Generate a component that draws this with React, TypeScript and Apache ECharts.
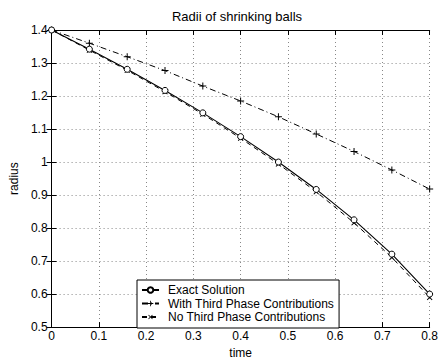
import React, { useEffect, useRef } from "react";
import * as echarts from "echarts";

const times = [0, 0.08, 0.16, 0.24, 0.32, 0.4, 0.48, 0.56, 0.64, 0.72, 0.8];
const exactSolution = [1.4, 1.342, 1.281, 1.217, 1.149, 1.077, 1.0, 0.917, 0.825, 0.721, 0.6];
const withThirdPhase = [1.4, 1.36, 1.319, 1.277, 1.23, 1.185, 1.137, 1.085, 1.032, 0.976, 0.918];
const noThirdPhase = [1.4, 1.339, 1.278, 1.213, 1.145, 1.072, 0.994, 0.91, 0.816, 0.711, 0.59];
const seriesNames = ["Exact Solution", "With Third Phase Contributions", "No Third Phase Contributions"];

const PLUS = "path://M3,0H4V3H7V4H4V7H3V4H0V3H3Z";
const FONT = "Liberation Sans, Arial, Helvetica, sans-serif";

function pairs(ys: number[]) {
  return times.map((t, i) => [t, ys[i]]);
}

export default function App() {
  const ref = useRef<HTMLDivElement>(null);
  useEffect(() => {
    document.body.style.margin = "0";
    const chart = echarts.init(ref.current!, null, { renderer: "svg" });
    const axisCommon = {
      axisLine: { show: true, lineStyle: { color: "#000", width: 1 } },
      axisTick: { show: true, inside: true, length: 5, lineStyle: { color: "#000" } },
    };
    chart.setOption({
      animation: false,
      backgroundColor: "#fff",
      textStyle: { fontFamily: FONT },
      title: {
        text: "Radii of shrinking balls",
        left: 232,
        textAlign: "center",
        top: 5,
        textStyle: { fontSize: 13, fontWeight: "normal", color: "#000", fontFamily: FONT },
      },
      grid: { left: 47, top: 30, width: 385, height: 303, show: false },
      legend: {
        orient: "vertical",
        left: 137,
        top: 280,
        backgroundColor: "#fff",
        borderColor: "#000",
        borderWidth: 1,
        padding: [4, 5, 5, 4],
        itemGap: 1.5,
        itemWidth: 17,
        itemHeight: 7,
        data: seriesNames,
        textStyle: { fontSize: 12, color: "#000", fontFamily: FONT, padding: [0, 0, 0, 4], lineHeight: 12 },
      },
      xAxis: [
        {
          type: "value",
          min: 0,
          max: 0.8,
          interval: 0.1,
          name: "time",
          nameLocation: "middle",
          nameGap: 14,
          nameTextStyle: { fontSize: 12, color: "#000" },
          ...axisCommon,
          axisLabel: { fontSize: 12, color: "#000", margin: 3 },
          splitLine: { show: true, lineStyle: { color: "#888", type: [1, 3], width: 1 } },
        },
        {
          type: "value",
          position: "top",
          min: 0,
          max: 0.8,
          interval: 0.1,
          ...axisCommon,
          axisLabel: { show: false },
          splitLine: { show: false },
        },
      ],
      yAxis: [
        {
          type: "value",
          min: 0.5,
          max: 1.4,
          interval: 0.1,
          name: "radius",
          nameLocation: "middle",
          nameGap: 30,
          nameTextStyle: { fontSize: 12, color: "#000" },
          ...axisCommon,
          axisLabel: { fontSize: 12, color: "#000", margin: 4 },
          splitLine: { show: true, lineStyle: { color: "#888", type: [1, 3], width: 1 } },
        },
        {
          type: "value",
          position: "right",
          min: 0.5,
          max: 1.4,
          interval: 0.1,
          ...axisCommon,
          axisLabel: { show: false },
          splitLine: { show: false },
        },
      ],
      series: [
        {
          name: seriesNames[0],
          type: "line",
          data: pairs(exactSolution),
          z: 4,
          symbol: "circle",
          symbolSize: 6,
          showAllSymbol: true,
          lineStyle: { color: "#000", width: 1.1, type: "solid" },
          itemStyle: { color: "#fff", borderColor: "#000", borderWidth: 1 },
        },
        {
          name: seriesNames[1],
          type: "line",
          data: pairs(withThirdPhase),
          z: 3,
          symbol: PLUS,
          symbolSize: 7,
          showAllSymbol: true,
          lineStyle: { color: "#000", width: 1, type: [6, 3, 1, 3] },
          itemStyle: { color: "#000", borderWidth: 0 },
        },
        {
          name: seriesNames[2],
          type: "line",
          data: pairs(noThirdPhase),
          z: 2,
          symbol: PLUS,
          symbolRotate: 45,
          symbolSize: 7,
          showAllSymbol: true,
          lineStyle: { color: "#000", width: 1, type: [5, 4] },
          itemStyle: { color: "#000", borderWidth: 0 },
        },
      ],
    });
    return () => chart.dispose();
  }, []);
  return <div ref={ref} style={{ width: 441, height: 364 }} />;
}
